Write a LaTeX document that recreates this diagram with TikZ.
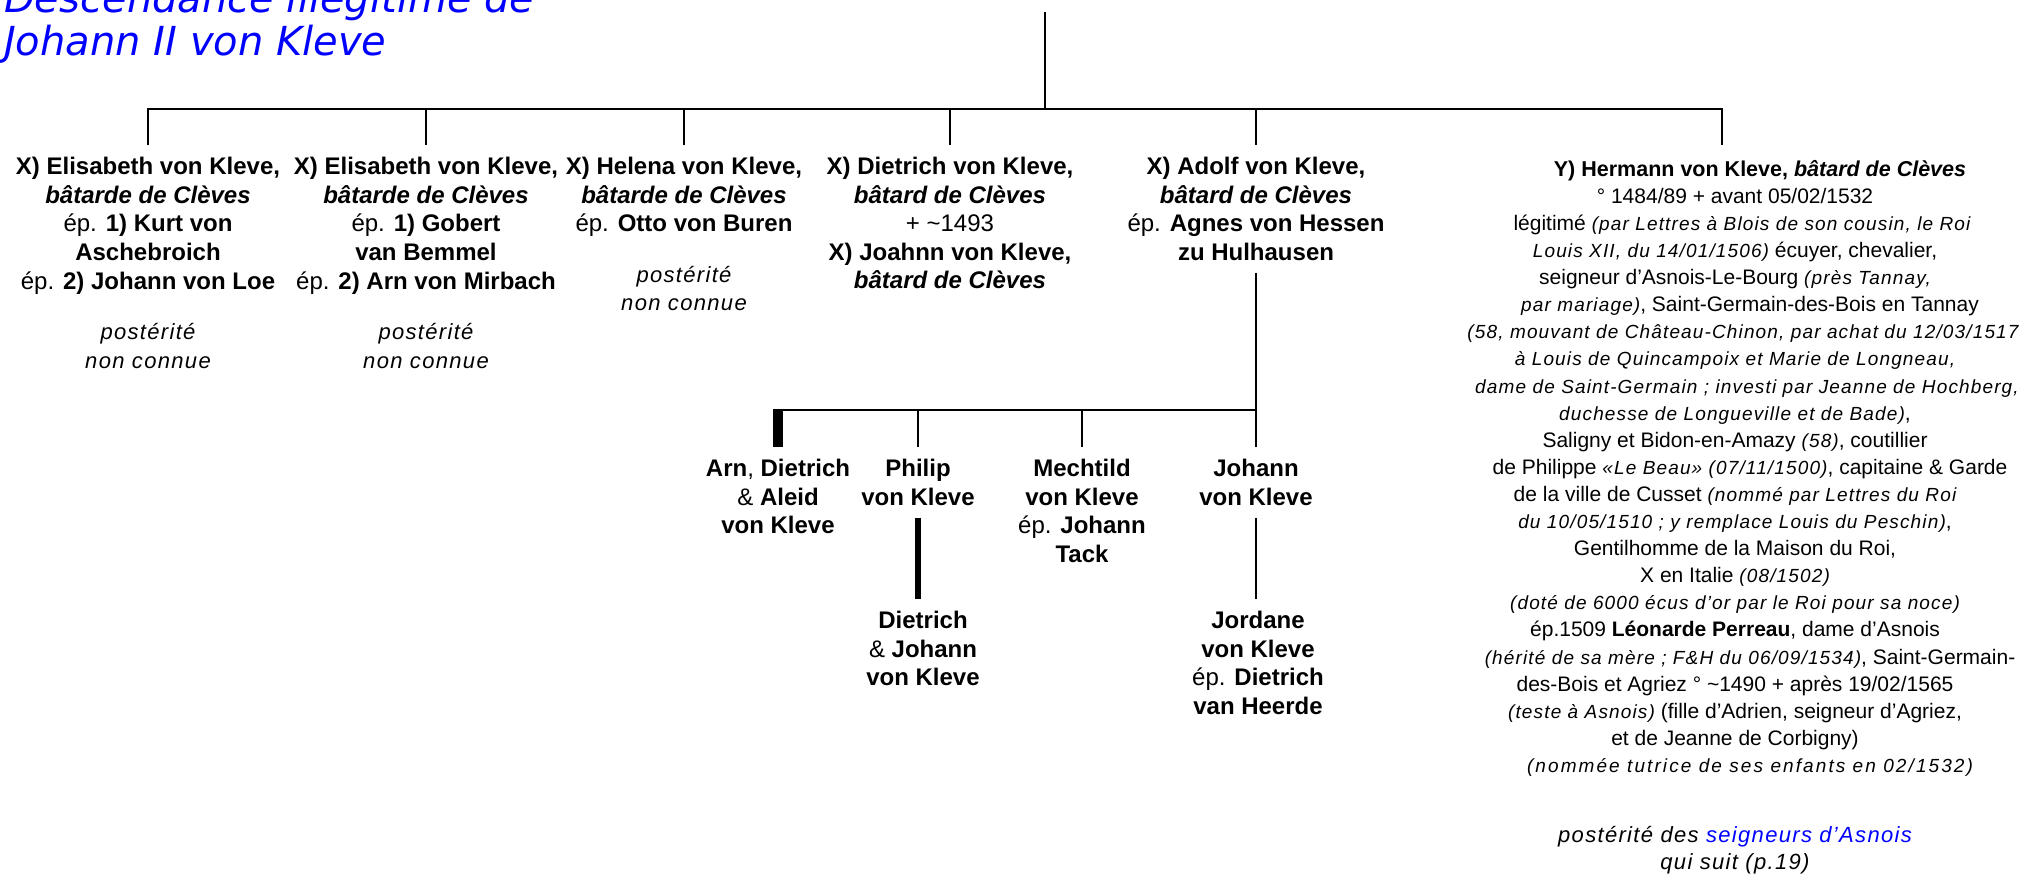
\documentclass[tikz,border=0pt]{standalone}
\usepackage{fontspec}
\setmainfont{Liberation Sans}
\newfontfamily\notefont{Liberation Sans}[LetterSpace=6.0]
\newfontfamily\titrefont{DejaVu Sans Oblique}
\definecolor{kleveblue}{RGB}{0,0,255}
\newcommand{\hnote}[1]{{\fontsize{19}{27.1}\notefont\mdseries\itshape #1}}
\newcommand{\post}[1]{{\fontsize{22}{28.6}\notefont\mdseries\itshape #1}}

\begin{document}
\begin{tikzpicture}[line join=miter,x=1pt,y=-1pt,
  link/.style={line width=2.8pt},
  heavy link/.style={line width=10pt},
  person/.style={align=center,anchor=north,inner xsep=0pt,inner ysep=12pt,
    font=\fontsize{24}{28.6}\selectfont\bfseries},
  titre/.style={anchor=base west,inner sep=0pt,text=kleveblue,
    font=\fontsize{40}{43}\titrefont}]
\useasboundingbox (0,0) rectangle (2025,879);
\node [titre] (titre1) at (4,12) {Descendance illégitime de};
\node [titre] (titre2) at (4,55) {Johann II von Kleve};
\node [person] (elisabetha) at (148,145) {X) Elisabeth von Kleve,\\ \textit{bâtarde de Clèves}\\ {\mdseries ép.} 1) Kurt von\\ Aschebroich\\ {\mdseries ép.} 2) Johann von Loe\\[22pt] \post{postérité}\\ \post{non connue}};
\node [person] (elisabethb) at (426,145) {X) Elisabeth von Kleve,\\ \textit{bâtarde de Clèves}\\ {\mdseries ép.} 1) Gobert\\ van Bemmel\\ {\mdseries ép.} 2) Arn von Mirbach\\[22pt] \post{postérité}\\ \post{non connue}};
\node [person] (helena) at (684,145) {X) Helena von Kleve,\\ \textit{bâtarde de Clèves}\\ {\mdseries ép.} Otto von Buren\\[22pt] \post{postérité}\\ \post{non connue}};
\node [person] (dietrich) at (950,145) {X) Dietrich von Kleve,\\ \textit{bâtard de Clèves}\\ {\mdseries + \textasciitilde1493}\\ X) Joahnn von Kleve,\\ \textit{bâtard de Clèves}};
\node [person] (adolf) at (1256,145) {X) Adolf von Kleve,\\ \textit{bâtard de Clèves}\\ {\mdseries ép.} Agnes von Hessen\\ zu Hulhausen};
\node [person,inner ysep=15pt,font=\fontsize{21}{27.1}\selectfont] (hermann) at (1735,145) {\hspace*{50pt}{\fontsize{21.5}{27.1}\selectfont\bfseries Y) Hermann von Kleve, \textit{bâtard de Clèves}}\\
  ° 1484/89 + avant 05/02/1532\\
  \hspace*{14pt}légitimé \hnote{(par Lettres à Blois de son cousin, le Roi}\\
  \hnote{Louis XII, du 14/01/1506)} écuyer, chevalier,\\
  seigneur d’Asnois-Le-Bourg \hnote{(près Tannay,}\\
  \hspace*{30pt}\hnote{par mariage)}, Saint-Germain-des-Bois en Tannay\\
  \hspace*{16pt}\hnote{(58, mouvant de Château-Chinon, par achat du 12/03/1517}\\
  \hnote{à Louis de Quincampoix et Marie de Longneau,}\\
  \hspace*{24pt}\hnote{dame de Saint-Germain ; investi par Jeanne de Hochberg,}\\
  \hnote{duchesse de Longueville et de Bade)},\\
  Saligny et Bidon-en-Amazy \hnote{(58)}, coutillier\\
  \hspace*{30pt}de Philippe \hnote{«Le Beau» (07/11/1500)}, capitaine \& Garde\\
  de la ville de Cusset \hnote{(nommé par Lettres du Roi}\\
  \hnote{du 10/05/1510 ; y remplace Louis du Peschin)},\\
  Gentilhomme de la Maison du Roi,\\
  X en Italie \hnote{(08/1502)}\\
  \hnote{(doté de 6000 écus d’or par le Roi pour sa noce)}\\
  ép.1509 \textbf{Léonarde Perreau}, dame d’Asnois\\
  \hspace*{30pt}\hnote{(hérité de sa mère ; F\&H du 06/09/1534)}, Saint-Germain-\\
  des-Bois et Agriez ° \textasciitilde1490 + après 19/02/1565\\
  \hnote{(teste à Asnois)} (fille d’Adrien, seigneur d’Agriez,\\
  et de Jeanne de Corbigny)\\
  \hspace*{30pt}\hnote{\addfontfeature{LetterSpace=11}(nommée tutrice de ses enfants en 02/1532)}\\[43pt]
  \post{postérité des \textcolor{kleveblue}{seigneurs d’Asnois}}\\
  \post{qui suit (p.19)}};
\node [person] (arn) at (778,447) {Arn{\mdseries ,} Dietrich\\ {\mdseries \&} Aleid\\ von Kleve};
\node [person] (philip) at (918,447) {Philip\\ von Kleve};
\node [person] (mechtild) at (1082,447) {Mechtild\\ von Kleve\\ {\mdseries ép.} Johann\\ Tack};
\node [person] (johann) at (1256,447) {Johann\\ von Kleve};
\node [person] (dietrichj) at (923,599) {Dietrich\\ {\mdseries \&} Johann\\ von Kleve};
\node [person] (jordane) at (1258,599) {Jordane\\ von Kleve\\ {\mdseries ép.} Dietrich\\ van Heerde};
\coordinate (racine) at (1045,12);
\coordinate (barre) at (1045,109);
\coordinate (fratrie) at (1045,410);
\coordinate (hdrop) at ([xshift=-13pt]hermann.north);
\draw [link] (racine) -- (barre);
\draw [link] (elisabetha.north) -- (elisabetha.north |- barre) -- (hdrop |- barre) -- (hdrop);
\foreach \n in {elisabethb,helena,dietrich,adolf}
  \draw [link] (\n.north |- barre) -- (\n.north);
\draw [link] (adolf.south) -- (adolf.south |- johann.north);
\draw [link,shorten <=-5pt] (arn.north |- fratrie) -- (adolf.south |- fratrie);
\draw [heavy link,shorten <=-1.4pt] (arn.north |- fratrie) -- (arn.north);
\foreach \n in {philip,mechtild}
  \draw [link] (\n.north |- fratrie) -- (\n.north);
\draw [link,line width=6pt] (philip.south) -- (philip.south |- dietrichj.north);
\draw [link] (johann.south) -- (johann.south |- jordane.north);
\end{tikzpicture}
\end{document}
